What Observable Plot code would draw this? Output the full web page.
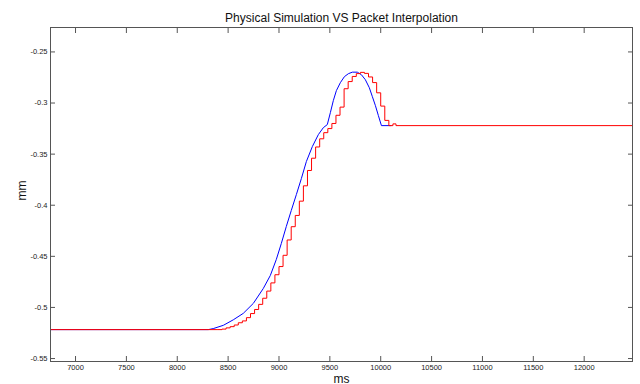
<!DOCTYPE html>
<html><head><meta charset="utf-8">
<script src="https://cdn.jsdelivr.net/npm/d3@7"></script>
<script src="https://cdn.jsdelivr.net/npm/@observablehq/plot@0.6"></script>
<style>html,body{margin:0;padding:0;background:#fff}svg{display:block}</style>
</head><body><div id="chart"></div>
<script>
const titleText = "Physical Simulation VS Packet Interpolation";
const xLabel = "ms";
const yLabel = "mm";
const xTicks = [7000, 7500, 8000, 8500, 9000, 9500, 10000, 10500, 11000, 11500, 12000];
const yTicks = [-0.55, -0.5, -0.45, -0.4, -0.35, -0.3, -0.25];

// Physical simulation (blue)
const simMs = [6754, 8305, 8354, 8453, 8551, 8649, 8748, 8846, 8915, 8974, 9023, 9072, 9121, 9171, 9220, 9269, 9328, 9387, 9436, 9475, 9505, 9534, 9564, 9603, 9643, 9682, 9721, 9770, 9810, 9849, 9888, 9918, 9948, 9977, 10007, 10100];
const simMm = [-0.5217, -0.5217, -0.5207, -0.5175, -0.5121, -0.5058, -0.4960, -0.4814, -0.4687, -0.4530, -0.4374, -0.4208, -0.4051, -0.3895, -0.3739, -0.3573, -0.3426, -0.3309, -0.3241, -0.3211, -0.3094, -0.2977, -0.2879, -0.2801, -0.2742, -0.2713, -0.2698, -0.2698, -0.2723, -0.2772, -0.2850, -0.2938, -0.3026, -0.3123, -0.3221, -0.3221];

// Packet interpolation (red)
const pktMs = [6754, 8400, 8440, 8480, 8520, 8560, 8600, 8640, 8680, 8720, 8760, 8800, 8840, 8880, 8920, 8960, 9000, 9040, 9080, 9120, 9160, 9200, 9240, 9280, 9320, 9360, 9400, 9440, 9480, 9520, 9560, 9600, 9640, 9680, 9720, 9760, 9800, 9840, 9880, 9920, 9960, 10000, 10040, 10080, 10120, 10150, 12475];
const pktMm = [-0.5217, -0.5217, -0.5212, -0.5200, -0.5188, -0.5172, -0.5150, -0.5132, -0.5100, -0.5060, -0.5020, -0.4970, -0.4910, -0.4840, -0.4760, -0.4680, -0.4600, -0.4490, -0.4340, -0.4210, -0.4100, -0.3960, -0.3810, -0.3660, -0.3540, -0.3430, -0.3350, -0.3290, -0.3250, -0.3200, -0.3120, -0.3040, -0.2860, -0.2790, -0.2740, -0.2712, -0.2700, -0.2710, -0.2745, -0.2800, -0.2900, -0.3030, -0.3170, -0.3221, -0.3204, -0.3221, -0.3221];

const sim = simMs.map((t, i) => ({ms: t, mm: simMm[i]}));
const pkt = pktMs.map((t, i) => ({ms: t, mm: pktMm[i]}));
const fmtY = d => String(+d.toFixed(2));
const axisColor = "#555";

const chart = Plot.plot({
  width: 640, height: 384,
  marginLeft: 50, marginRight: 8, marginTop: 27, marginBottom: 23,
  style: {fontFamily: "'Liberation Sans', Arial, sans-serif", fontSize: "7.5px", color: "#222", background: "#fff"},
  x: {domain: [6754, 12475], label: null},
  y: {domain: [-0.5529, -0.2261], label: null},
  marks: [
    Plot.line(sim, {x: "ms", y: "mm", stroke: "#0000ff", strokeWidth: 1, curve: "linear"}),
    Plot.line(pkt, {x: "ms", y: "mm", stroke: "#ff0000", strokeWidth: 1, curve: "step-after"}),
    Plot.frame({stroke: axisColor}),
    Plot.axisX(xTicks, {anchor: "bottom", tickSize: 0, tickPadding: 3, tickFormat: d => String(d), label: null}),
    Plot.axisX(xTicks, {anchor: "bottom", tickSize: -5, tickFormat: () => "", label: null, stroke: axisColor}),
    Plot.axisX(xTicks, {anchor: "top", tickSize: -5, tickFormat: () => "", label: null, stroke: axisColor}),
    Plot.axisY(yTicks, {anchor: "left", tickSize: 0, tickPadding: 3, tickFormat: fmtY, label: null}),
    Plot.axisY(yTicks, {anchor: "left", tickSize: -5, tickFormat: () => "", label: null, stroke: axisColor}),
    Plot.axisY(yTicks, {anchor: "right", tickSize: -5, tickFormat: () => "", label: null, stroke: axisColor}),
    Plot.text([titleText], {frameAnchor: "top", dy: -6, lineAnchor: "bottom", fontSize: 12, fill: "#111"}),
    Plot.text([xLabel], {frameAnchor: "bottom", dy: 21, lineAnchor: "bottom", fontSize: 12, fill: "#111"}),
    Plot.text([yLabel], {frameAnchor: "left", dx: -28, dy: 6, rotate: -90, lineAnchor: "middle", fontSize: 12, fill: "#111"})
  ]
});
document.getElementById("chart").appendChild(chart);
</script>
</body></html>
